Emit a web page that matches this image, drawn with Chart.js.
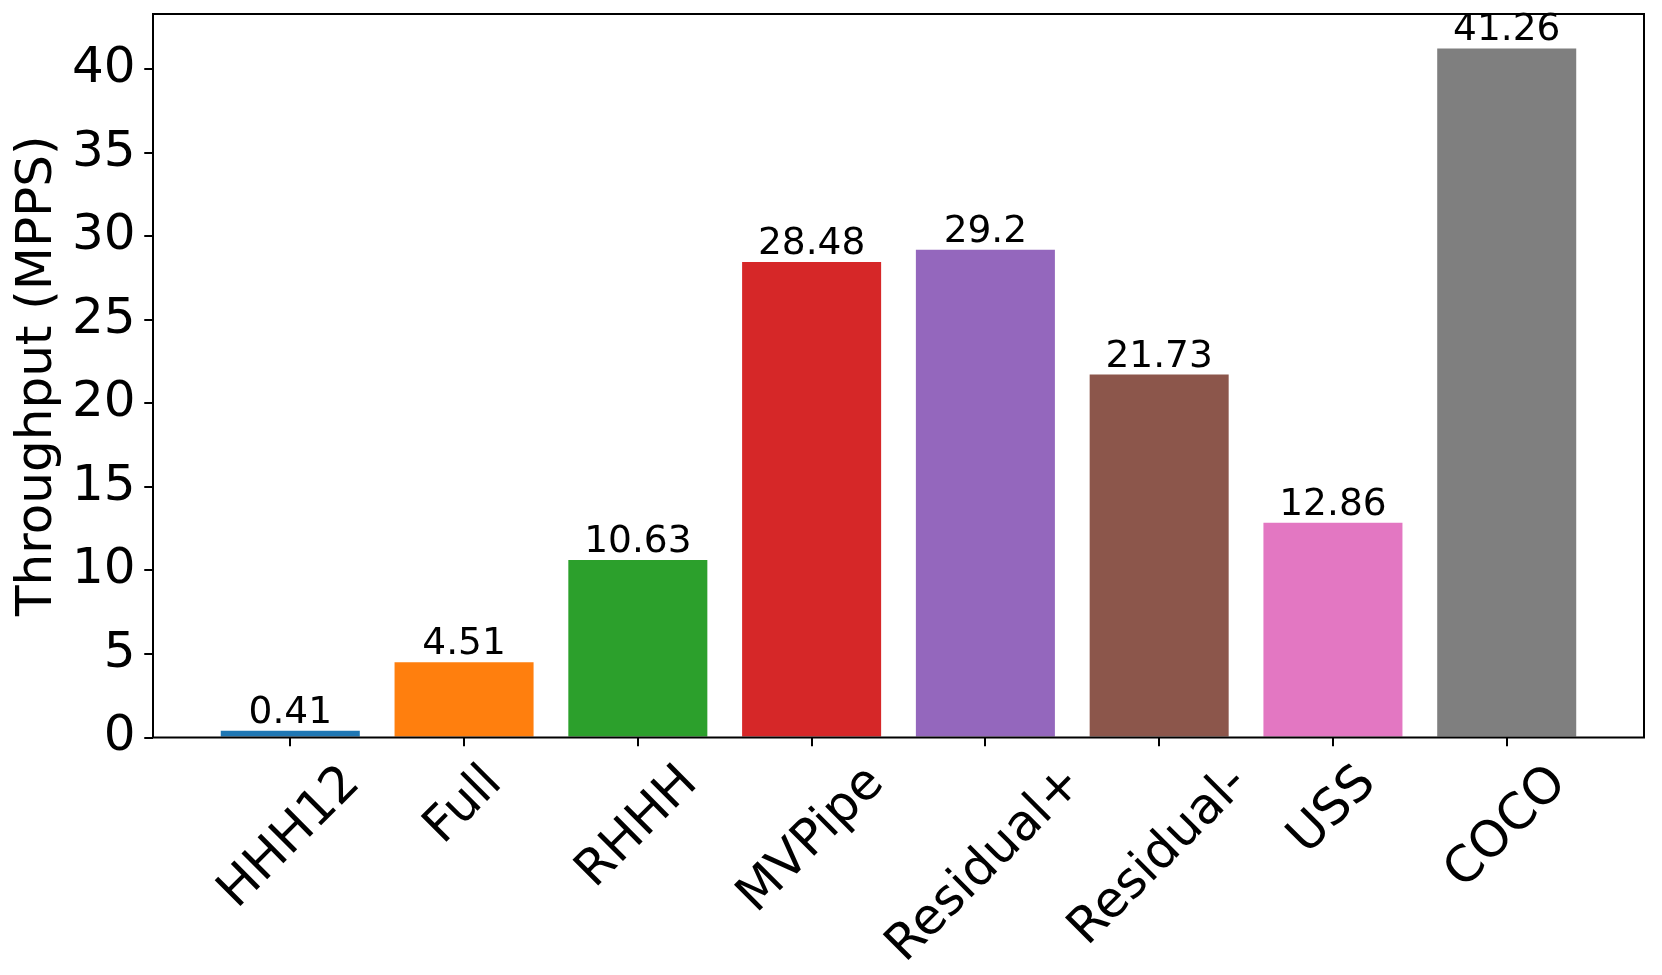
<!DOCTYPE html>
<html>
<head>
<meta charset="utf-8">
<script src="https://cdn.jsdelivr.net/npm/chart.js@4.4.1/dist/chart.umd.min.js"></script>
<style>
html,body{margin:0;padding:0;background:#fff;}
canvas{display:block;}
</style>
</head>
<body>
<canvas id="c" width="1662" height="975"></canvas>
<script>
const categories = ["HHH12", "Full", "RHHH", "MVPipe", "Residual+", "Residual-", "USS", "COCO"];
const throughput = [0.41, 4.51, 10.63, 28.48, 29.2, 21.73, 12.86, 41.26];
const valueLabels = ["0.41", "4.51", "10.63", "28.48", "29.2", "21.73", "12.86", "41.26"];
const yTicks = [0, 5, 10, 15, 20, 25, 30, 35, 40];
const barColors = ["#1f77b4", "#ff7f0e", "#2ca02c", "#d62728", "#9467bd", "#8c564b", "#e377c2", "#7f7f7f"];
const yTitle = "Throughput (MPPS)";

const FONT = "'DejaVu Sans', sans-serif";
const yMax = Math.max(...throughput) * 1.05;
const xMin = -0.4 - 0.05 * (categories.length - 1 + 0.8);
const xMax = categories.length - 1 + 0.4 + 0.05 * (categories.length - 1 + 0.8);

function zeroPad(scale) {
  scale.paddingTop = 0; scale.paddingBottom = 0;
  scale.paddingLeft = 0; scale.paddingRight = 0;
}

const framePlugin = {
  id: 'frame',
  afterDatasetsDraw(chart) {
    const ctx = chart.ctx;
    const meta = chart.getDatasetMeta(0);
    ctx.save();
    ctx.fillStyle = '#000';
    ctx.font = "37.5px " + FONT;
    ctx.textAlign = 'center';
    ctx.textBaseline = 'alphabetic';
    meta.data.forEach((bar, i) => {
      ctx.fillText(valueLabels[i], bar.x, bar.y - 8);
    });
    ctx.restore();
  },
  afterDraw(chart) {
    const ctx = chart.ctx;
    const a = chart.chartArea;
    ctx.save();
    ctx.strokeStyle = '#000';
    ctx.lineWidth = 2;
    ctx.strokeRect(a.left, a.top, a.right - a.left, a.bottom - a.top);
    const xs = chart.scales.x;
    ctx.font = "50px " + FONT;
    ctx.fillStyle = '#000';
    ctx.textAlign = 'center';
    ctx.textBaseline = 'middle';
    const h = 58;
    const top = a.bottom + 8.75 + 8.75;
    categories.forEach((lab, i) => {
      const w = ctx.measureText(lab).width;
      const px = xs.getPixelForValue(i);
      const cy = top + (w + h) * Math.SQRT1_2 / 2;
      ctx.save();
      ctx.translate(px, cy);
      ctx.rotate(-Math.PI / 4);
      ctx.fillText(lab, 0, 0);
      ctx.restore();
    });
    ctx.save();
    ctx.translate(51, (a.top + a.bottom) / 2);
    ctx.rotate(-Math.PI / 2);
    ctx.textAlign = 'center';
    ctx.textBaseline = 'alphabetic';
    ctx.fillText(yTitle, 0, 0);
    ctx.restore();
    ctx.restore();
  }
};

new Chart(document.getElementById('c'), {
  type: 'bar',
  data: {
    datasets: [{
      data: categories.map((c, i) => ({x: i, y: throughput[i]})),
      backgroundColor: barColors,
      borderWidth: 0,
      barPercentage: 0.8,
      categoryPercentage: 1.0
    }]
  },
  options: {
    responsive: false,
    animation: false,
    devicePixelRatio: 1,
    layout: {padding: {left: 0, top: 14, right: 18, bottom: 0}},
    plugins: {legend: {display: false}, tooltip: {enabled: false}},
    scales: {
      x: {
        type: 'linear',
        min: xMin,
        max: xMax,
        offset: false,
        afterBuildTicks(scale) { scale.ticks = categories.map((c, i) => ({value: i})); },
        afterFit(scale) { scale.height = 975 - 737.5; zeroPad(scale); },
        grid: {offset: false, drawOnChartArea: false, drawTicks: true, tickLength: 8.75, color: '#000', lineWidth: 2},
        border: {display: false},
        ticks: {display: false}
      },
      y: {
        type: 'linear',
        min: 0,
        max: yMax,
        afterBuildTicks(scale) { scale.ticks = yTicks.map(v => ({value: v})); },
        afterFit(scale) { scale.width = 153; zeroPad(scale); },
        grid: {drawOnChartArea: false, drawTicks: true, tickLength: 8.75, color: '#000', lineWidth: 2},
        border: {display: false},
        ticks: {color: '#000', padding: 8.75, font: {family: FONT, size: 50}}
      }
    }
  },
  plugins: [framePlugin]
});
</script>
</body>
</html>
